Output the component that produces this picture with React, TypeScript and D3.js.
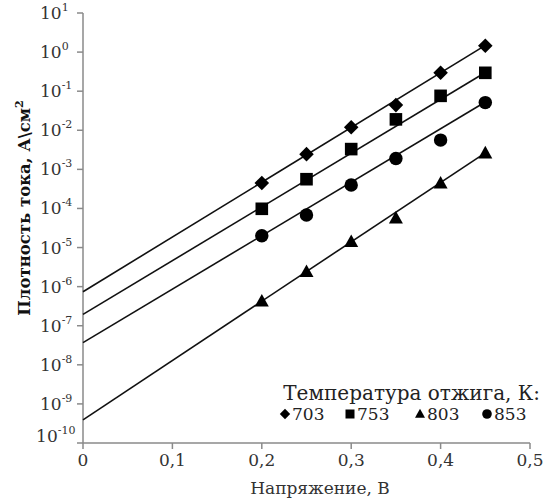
import React from "react";
import * as d3 from "d3";

const voltage = [0.2, 0.25, 0.3, 0.35, 0.4, 0.45];
const j703 = [4.5e-4, 2.45e-3, 1.2e-2, 4.4e-2, 0.295, 1.45];
const j753 = [9.8e-5, 5.6e-4, 3.3e-3, 1.9e-2, 7.6e-2, 0.295];
const j803 = [4.2e-7, 2.4e-6, 1.4e-5, 5.6e-5, 4.4e-4, 2.6e-3];
const j853 = [2.0e-5, 6.8e-5, 4.0e-4, 1.9e-3, 5.6e-3, 5.1e-2];

const fitV = [0, 0.45];
const fit703 = [7.4e-7, 1.48];
const fit753 = [1.95e-7, 0.3];
const fit803 = [3.9e-10, 2.65e-3];
const fit853 = [3.7e-8, 0.053];

const xTicks = [0, 0.1, 0.2, 0.3, 0.4, 0.5];
const yExponents = [1, 0, -1, -2, -3, -4, -5, -6, -7, -8, -9, -10];

const seriesNames = ["703", "753", "803", "853"];
const seriesSymbols = ["diamond", "square", "triangle", "circle"];

const W = 549;
const H = 499;
const left = 83;
const right = 530;
const top = 13;
const bottom = 443;
const FONT = "'DejaVu Serif', 'Liberation Serif', serif";

export default function App() {
  const x = d3.scaleLinear().domain([0, 0.5]).range([left, right]);
  const y = d3.scaleLog().domain([1e-10, 10]).range([bottom, top]);

  const series = [
    { name: seriesNames[0], sym: seriesSymbols[0], vals: j703, fit: fit703 },
    { name: seriesNames[1], sym: seriesSymbols[1], vals: j753, fit: fit753 },
    { name: seriesNames[2], sym: seriesSymbols[2], vals: j803, fit: fit803 },
    { name: seriesNames[3], sym: seriesSymbols[3], vals: j853, fit: fit853 },
  ];

  const line = d3
    .line<[number, number]>()
    .x((d) => x(d[0]))
    .y((d) => y(d[1]));

  const marker = (sym: string, cx: number, cy: number, s: number, key?: any) => {
    if (sym === "diamond") {
      const r = s * 0.52;
      return (
        <path key={key} d={`M${cx},${cy - r}L${cx + r},${cy}L${cx},${cy + r}L${cx - r},${cy}Z`} fill="#000" />
      );
    }
    if (sym === "square") {
      const r = s * 0.45;
      return <rect key={key} x={cx - r} y={cy - r} width={2 * r} height={2 * r} fill="#000" />;
    }
    if (sym === "triangle") {
      const r = s * 0.5;
      return (
        <path key={key} d={`M${cx},${cy - r * 1.05}L${cx + r},${cy + r * 0.75}L${cx - r},${cy + r * 0.75}Z`} fill="#000" />
      );
    }
    return <circle key={key} cx={cx} cy={cy} r={s * 0.48} fill="#000" />;
  };

  const axisColor = "#8a8a8a";
  const legendX = [285, 350, 420, 487];

  return (
    <svg width={W} height={H} style={{ position: "absolute", left: 0, top: 0, background: "#fff" }}>
      <rect width={W} height={H} fill="#fff" />
      {/* axes */}
      <line x1={left} x2={left} y1={top} y2={bottom} stroke={axisColor} strokeWidth={1.5} />
      <line x1={left} x2={right} y1={bottom} y2={bottom} stroke={axisColor} strokeWidth={1.5} />
      {yExponents.map((e) => (
        <line key={"yt" + e} x1={left - 6} x2={left} y1={y(Math.pow(10, e))} y2={y(Math.pow(10, e))} stroke={axisColor} strokeWidth={1.5} />
      ))}
      {xTicks.map((t) => (
        <line key={"xt" + t} x1={x(t)} x2={x(t)} y1={bottom} y2={bottom + 6} stroke={axisColor} strokeWidth={1.5} />
      ))}
      {/* y tick labels */}
      {yExponents.map((e) => {
        const sup = String(e);
        const supW = sup.length * 7.3;
        const baseEnd = Math.min(62, 80 - supW);
        const cy = Math.min(y(Math.pow(10, e)), 436);
        return (
          <text key={"yl" + e} x={baseEnd - 22} y={cy + 6} fontFamily={FONT} fontSize={17} fill="#333">
            10
            <tspan fontSize={11} dy={-8}>{sup}</tspan>
          </text>
        );
      })}
      {/* x tick labels */}
      {xTicks.map((t) => (
        <text key={"xl" + t} x={x(t)} y={466} textAnchor="middle" fontFamily={FONT} fontSize={17} fill="#333">
          {t === 0 ? "0" : String(t).replace(".", ",")}
        </text>
      ))}
      {/* titles */}
      <text x={320} y={494} textAnchor="middle" fontFamily={FONT} fontSize={17} fill="#333">
        Напряжение, В
      </text>
      <text
        transform={`translate(30,${208}) rotate(-90)`}
        textAnchor="middle"
        fontFamily={FONT}
        fontSize={16.5}
        fontWeight="bold"
        fill="#111"
      >
        Плотность тока, А\см
        <tspan fontSize={11} dy={-7}>2</tspan>
      </text>
      {/* fit lines */}
      {series.map((s) => (
        <path
          key={"f" + s.name}
          d={line([[fitV[0], s.fit[0]], [fitV[1], s.fit[1]]]) || ""}
          fill="none"
          stroke="#111"
          strokeWidth={1.6}
        />
      ))}
      {/* markers */}
      {series.map((s) =>
        s.vals.map((v, i) => marker(s.sym, x(voltage[i]), y(v), 14, s.name + "-" + i))
      )}
      {/* legend */}
      <text x={540} y={400} textAnchor="end" fontFamily={FONT} fontSize={20} fill="#222">
        Температура отжига, К:
      </text>
      {series.map((s, i) => {
        const mx = legendX[i];
        return (
          <g key={"lg" + s.name}>
            {marker(s.sym, mx, 414, 10)}
            <text x={mx + 7} y={420} fontFamily={FONT} fontSize={17} fill="#222">
              {s.name}
            </text>
          </g>
        );
      })}
    </svg>
  );
}
